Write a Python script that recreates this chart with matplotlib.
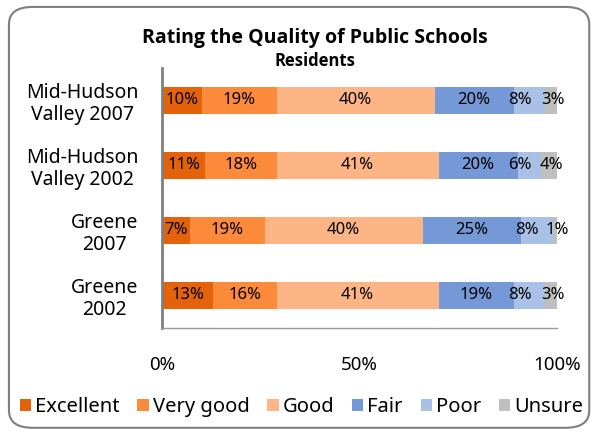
import matplotlib.pyplot as plt
import numpy as np
from matplotlib.patches import FancyBboxPatch

plt.rcParams['font.family'] = ['Noto Sans', 'DejaVu Sans']

groups = ["Mid-Hudson\nValley 2007", "Mid-Hudson\nValley 2002", "Greene\n2007", "Greene\n2002"]
ratings = ["Excellent", "Very good", "Good", "Fair", "Poor", "Unsure"]
excellent = [10, 11, 7, 13]
very_good = [19, 18, 19, 16]
good = [40, 41, 40, 41]
fair = [20, 20, 25, 19]
poor = [8, 6, 8, 8]
unsure = [3, 4, 1, 3]
colors = ["#E46209", "#FB8A3B", "#FDB586", "#7598D6", "#AAC1E7", "#BFBFBF"]
# small nudges so the narrow labels at the right end don't collide
label_shift = [0, 0, 0, 0, -2.5, 0.5]

series = [excellent, very_good, good, fair, poor, unsure]

fig = plt.figure(figsize=(5.97, 4.33), dpi=100)
ax = fig.add_axes([0.2714, 0.2425, 0.6616, 0.6005])

# rounded frame round the whole chart
frame = FancyBboxPatch((0.015, 0.012), 0.972, 0.972,
                       boxstyle="round,pad=0,rounding_size=0.04",
                       transform=fig.transFigure, facecolor='white',
                       edgecolor='#7f7f7f', linewidth=1.5, zorder=-10)
fig.patches.append(frame)

y = np.arange(len(groups))
left = np.zeros(len(groups))
for vals, name, col, dx in zip(series, ratings, colors, label_shift):
    vals = np.array(vals, dtype=float)
    ax.barh(y, vals, left=left, height=0.41, color=col, label=name)
    for yi, l, v in zip(y, left, vals):
        ax.text(l + v / 2 + dx, yi, f"{int(v)}%", ha='center', va='center',
                fontsize=12, color='black')
    left += vals

ax.set_xlim(0, 100)
ax.set_ylim(3.5, -0.5)
ax.set_yticks(y)
ax.set_yticklabels(groups, fontsize=14, multialignment='center',
                   linespacing=1.15)
ax.set_xticks([0, 50, 100])
ax.set_xticklabels(["0%", "50%", "100%"], fontsize=13.5)
ax.tick_params(axis='both', length=0)
ax.tick_params(axis='x', pad=20)
ax.tick_params(axis='y', pad=17)

for s in ["top", "right"]:
    ax.spines[s].set_visible(False)
ax.spines["left"].set_color("#808080")
ax.spines["left"].set_linewidth(2)
ax.spines["bottom"].set_color("#9a9a9a")
ax.spines["bottom"].set_linewidth(1)

fig.text(0.527, 0.912, "Rating the Quality of Public Schools",
         ha='center', va='center', fontsize=14, fontweight='bold',
         family=['Open Sans', 'DejaVu Sans'])
fig.text(0.527, 0.86, "Residents", ha='center', va='center',
         fontsize=12, fontweight='bold', family=['Open Sans', 'DejaVu Sans'])

fig.legend(loc='center', bbox_to_anchor=(0.505, 0.06), ncol=6, frameon=False,
           fontsize=14.5, handlelength=0.55, handleheight=0.55,
           handletextpad=0.2, columnspacing=0.9)

fig.savefig("out.png", dpi=100)
